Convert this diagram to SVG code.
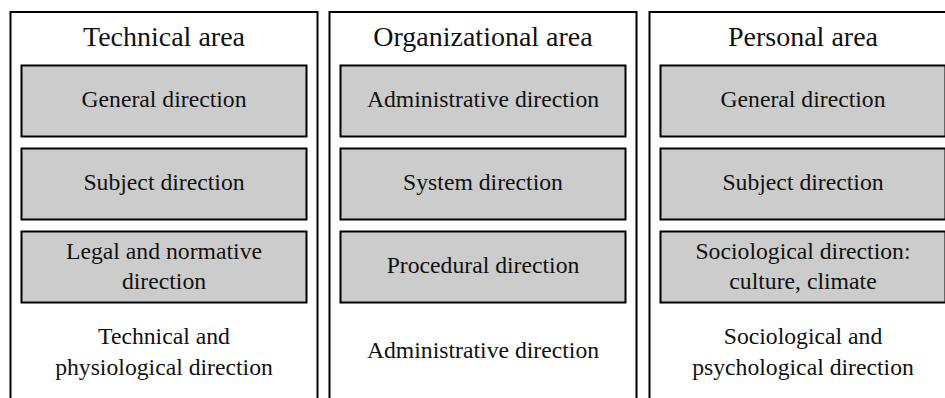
<svg xmlns="http://www.w3.org/2000/svg" width="945" height="398" viewBox="0 0 945 398">
<style>
.panel{fill:#ffffff;stroke:#000000;stroke-width:2}
.box{fill:#cccccc;stroke:#000000;stroke-width:2}
.title{font-size:28px;fill:#111111;text-anchor:middle}
.lbl{font-size:23.7px;fill:#111111;text-anchor:middle}
</style>
<rect x="0" y="0" width="945" height="398" fill="#ffffff"/>
<g font-family="'Liberation Serif', 'Times New Roman', serif">
<g id="technical-area">
<rect class="panel" x="10.5" y="12" width="307" height="400"/>
<text class="title" x="164" y="46">Technical area</text>
<g id="tech-general"><rect class="box" x="21.5" y="65.5" width="285" height="71"/><text class="lbl" x="164" y="107">General direction</text></g>
<g id="tech-subject"><rect class="box" x="21.5" y="148.5" width="285" height="71"/><text class="lbl" x="164" y="190">Subject direction</text></g>
<g id="tech-legal"><rect class="box" x="21.5" y="231.5" width="285" height="71"/><text class="lbl" x="164" y="259">Legal and normative</text><text class="lbl" x="164" y="289">direction</text></g>
<g id="tech-physio"><text class="lbl" x="164" y="344">Technical and</text><text class="lbl" x="164" y="375">physiological direction</text></g>
</g>
<g id="organizational-area">
<rect class="panel" x="329.5" y="12" width="307" height="400"/>
<text class="title" x="483" y="46">Organizational area</text>
<g id="org-admin"><rect class="box" x="340.5" y="65.5" width="285" height="71"/><text class="lbl" x="483" y="107">Administrative direction</text></g>
<g id="org-system"><rect class="box" x="340.5" y="148.5" width="285" height="71"/><text class="lbl" x="483" y="190">System direction</text></g>
<g id="org-procedural"><rect class="box" x="340.5" y="231.5" width="285" height="71"/><text class="lbl" x="483" y="273">Procedural direction</text></g>
<g id="org-admin2"><text class="lbl" x="483" y="358">Administrative direction</text></g>
</g>
<g id="personal-area">
<rect class="panel" x="649.5" y="12" width="307" height="400"/>
<text class="title" x="803" y="46">Personal area</text>
<g id="pers-general"><rect class="box" x="660.5" y="65.5" width="285" height="71"/><text class="lbl" x="803" y="107">General direction</text></g>
<g id="pers-subject"><rect class="box" x="660.5" y="148.5" width="285" height="71"/><text class="lbl" x="803" y="190">Subject direction</text></g>
<g id="pers-socio"><rect class="box" x="660.5" y="231.5" width="285" height="71"/><text class="lbl" x="803" y="259">Sociological direction:</text><text class="lbl" x="803" y="289">culture, climate</text></g>
<g id="pers-psych"><text class="lbl" x="803" y="344">Sociological and</text><text class="lbl" x="803" y="375">psychological direction</text></g>
</g>
</g>
<g id="connectors"></g>
</svg>
